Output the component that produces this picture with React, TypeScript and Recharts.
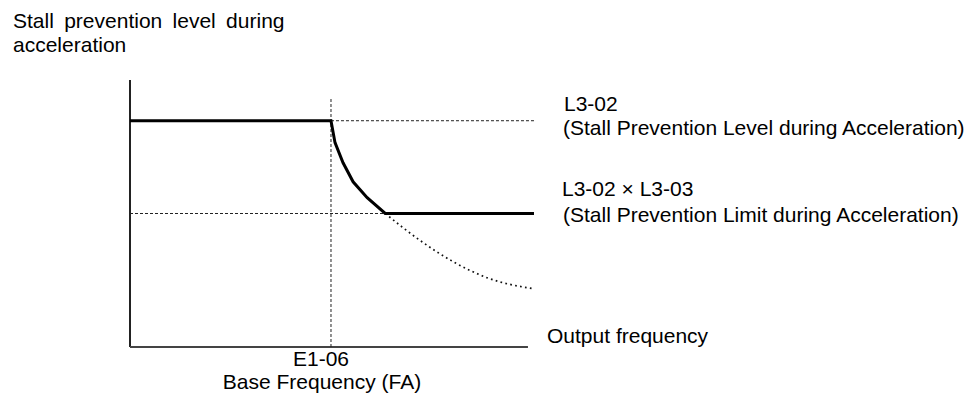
import { LineChart, Line, XAxis, YAxis, ReferenceLine } from 'recharts';

// output frequency (base frequency = 100) vs stall prevention level (L3-02 = 100)
const levelCurve = [
  { f: 0, level: 100 },
  { f: 100, level: 100 },
  { f: 102, level: 90.3 },
  { f: 106, level: 81.4 },
  { f: 111, level: 73 },
  { f: 118, level: 66 },
  { f: 127, level: 59 },
  { f: 201, level: 59 },
];

const powerCurve = [
  { f: 127, level: 59 },
  { f: 144, level: 47.3 },
  { f: 161, level: 37.6 },
  { f: 178, level: 30.5 },
  { f: 201, level: 25.7 },
];

const BASE_FREQ = 100;
const L3_02 = 100;
const L3_02_X_L3_03 = 59;
const X_MAX = 202;
const Y_MAX = 118;

const titleLines = ['Stall prevention level during', 'acceleration'];
const upperLabel = ['L3-02', '(Stall Prevention Level during Acceleration)'];
const lowerLabel = ['L3-02 \u00d7 L3-03', '(Stall Prevention Limit during Acceleration)'];
const xTitle = 'Output frequency';
const baseLabel = ['E1-06', 'Base Frequency (FA)'];

const FONT = '"Liberation Sans", Arial, sans-serif';

export default function App() {
  const txt = { fontFamily: FONT, fontSize: 21, fill: '#000' };
  return (
    <div style={{ position: 'absolute', left: 0, top: 0, width: 978, height: 398, background: '#fff' }}>
      <LineChart
        width={978}
        height={398}
        margin={{ top: 80, right: 442, bottom: 51, left: 130 }}
      >
        <XAxis type="number" dataKey="f" domain={[0, X_MAX]} hide />
        <YAxis type="number" dataKey="level" domain={[0, Y_MAX]} hide />

        {/* axes */}
        <ReferenceLine segment={[{ x: 0, y: 0 }, { x: 0, y: Y_MAX }]} stroke="#222" strokeWidth={2} />
        <ReferenceLine segment={[{ x: 0, y: 0 }, { x: 198, y: 0 }]} stroke="#444" strokeWidth={2} />

        {/* guide lines */}
        <ReferenceLine segment={[{ x: BASE_FREQ, y: 0 }, { x: BASE_FREQ, y: 110 }]} stroke="#222" strokeDasharray="3 2" />
        <ReferenceLine segment={[{ x: BASE_FREQ, y: L3_02 }, { x: 201, y: L3_02 }]} stroke="#222" strokeDasharray="3 2" />
        <ReferenceLine segment={[{ x: 0, y: L3_02_X_L3_03 }, { x: 127, y: L3_02_X_L3_03 }]} stroke="#222" strokeDasharray="3 2" />

        <Line
          data={powerCurve}
          dataKey="level"
          type="monotone"
          stroke="#111"
          strokeWidth={1.7}
          strokeDasharray="1.7 3.3"
          dot={false}
          isAnimationActive={false}
        />
        <Line
          data={levelCurve}
          dataKey="level"
          type="linear"
          stroke="#000"
          strokeWidth={3}
          dot={false}
          isAnimationActive={false}
        />
      </LineChart>

      <svg width={978} height={398} style={{ position: 'absolute', left: 0, top: 0, pointerEvents: 'none' }}>
        <text x={13} y={28} {...txt} style={{ wordSpacing: 4.5 }}>{titleLines[0]}</text>
        <text x={13} y={52} {...txt}>{titleLines[1]}</text>
        <text x={564} y={111} {...txt}>{upperLabel[0]}</text>
        <text x={563} y={135} {...txt}>{upperLabel[1]}</text>
        <text x={562} y={196} {...txt}>{lowerLabel[0]}</text>
        <text x={563} y={222} {...txt}>{lowerLabel[1]}</text>
        <text x={547} y={343} {...txt}>{xTitle}</text>
        <text x={321} y={366} textAnchor="middle" {...txt}>{baseLabel[0]}</text>
        <text x={322} y={389} textAnchor="middle" {...txt}>{baseLabel[1]}</text>
      </svg>
    </div>
  );
}
